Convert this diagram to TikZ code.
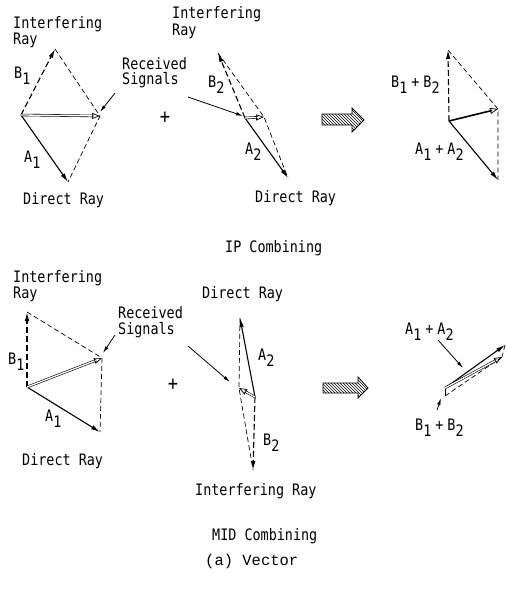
\documentclass[tikz,border=0pt]{standalone}
\usepackage{fontspec}
\newfontfamily\lblfont[FakeStretch=0.85]{DejaVu Sans Mono}
\newfontfamily\courfont{Liberation Mono}
\usetikzlibrary{arrows.meta,patterns,calc}
\newcommand\lsub[1]{\raisebox{-6pt}{#1}}
\newcommand\pl{\hspace{4pt}+\hspace{4pt}}
\begin{document}
\begin{tikzpicture}[x=1pt,y=-1pt,
  lbl/.style={font=\lblfont\fontsize{15.8}{18}\selectfont, inner sep=0pt, anchor=base west},
  plussign/.style={font=\lblfont\fontsize{20}{20}\selectfont, inner sep=0pt, anchor=center},
  captext/.style={font=\courfont\fontsize{15.5}{18}\selectfont, inner sep=0pt, anchor=base west},
  vec/.style={line width=1.1pt, -{Latex[length=9pt,width=4.5pt]}},
  dvec/.style={vec, dash pattern=on 6pt off 3pt},
  dline/.style={line width=0.7pt, dash pattern=on 5pt off 3pt},
  resshaft/.style={double=white, double distance=1.3pt, line width=0.6pt, shorten >=6pt},
  reshead/.style={line width=0.7pt, -{Triangle[open,length=8pt,width=6pt]}},
  pointer/.style={line width=0.8pt, -{Latex[length=7pt,width=3.5pt]}},
  hatch/.style={line width=0.8pt, pattern=north west lines}
]
\useasboundingbox (0,0) rectangle (506,589);

% ---------- IP combining: panel 1 ----------
\coordinate (O1) at (21,115);
\coordinate (B1) at (55,49);
\coordinate (A1) at (68,182);
\coordinate (R1) at (100,116);
\draw[dvec] (O1) -- (B1);
\draw[vec] (O1) -- (A1);
\draw[dline] (B1) -- (R1) -- (A1);
\draw[resshaft] (O1) -- (R1);
\draw[reshead] ($(R1)!8pt!(O1)$) -- (R1);
\node[lbl] (t1a) at (13,28) {Interfering};
\node[lbl] (t1b) at (13,44.5) {Ray};
\node[lbl] (t1c) at (14,78) {B\lsub{1}};
\node[lbl] (t1d) at (24,162) {A\lsub{1}};
\node[lbl] (t1e) at (23,204) {Direct Ray};
\node[lbl] (t1f) at (122,69) {Received};
\node[lbl] (t1g) at (122,84) {Signals};
\coordinate (P1s) at (115,93);
\coordinate (P1e) at (100,112);
\draw[pointer] (P1s) -- (P1e);
\node[plussign] (plus1) at (165,118) {+};

% ---------- IP combining: panel 2 ----------
\coordinate (O2) at (245,118);
\coordinate (B2) at (218,53);
\coordinate (A2) at (288,178);
\coordinate (R2) at (264,117);
\draw[dvec] (O2) -- (B2);
\draw[vec] (O2) -- (A2);
\draw[dline] (B2) -- (R2) -- (A2);
\draw[resshaft] (O2) -- (R2);
\draw[reshead] ($(R2)!8pt!(O2)$) -- (R2);
\coordinate (P2s) at (188,97);
\coordinate (P2e) at (243,116);
\draw[pointer] (P2s) -- (P2e);
\node[lbl] (t2a) at (172,19) {Interfering};
\node[lbl] (t2b) at (172,35.5) {Ray};
\node[lbl] (t2c) at (208,87) {B\lsub{2}};
\node[lbl] (t2d) at (245,154) {A\lsub{2}};
\node[lbl] (t2e) at (255,202) {Direct Ray};

% hatched arrow
\draw[hatch] (322,114) -- (352,114) -- (352,108) -- (364,120) -- (352,132) -- (352,125) -- (322,125) -- cycle;

% ---------- IP combining: panel 3 ----------
\coordinate (O3) at (449,121);
\coordinate (B3) at (448,50);
\coordinate (A3) at (498,180);
\coordinate (R3) at (498,109);
\draw[dvec] (O3) -- (B3);
\draw[vec] (O3) -- (A3);
\draw[dline] (B3) -- (R3) -- (A3);
\draw[line width=1.6pt, shorten >=6pt] (O3) -- (R3);
\draw[reshead] ($(R3)!8pt!(O3)$) -- (R3);
\node[lbl] (t3a) at (391,87) {B\lsub{1}\pl B\lsub{2}};
\node[lbl] (t3b) at (415,154) {A\lsub{1}\pl A\lsub{2}};

\node[lbl] (ip) at (225,252) {IP Combining};

% ---------- MID combining: panel 1 ----------
\coordinate (O4) at (27,387);
\coordinate (B4) at (27,312);
\coordinate (A4) at (100,432);
\coordinate (R4) at (102,358);
\draw[dvec] (O4) -- (B4);
\draw[vec] (O4) -- (A4);
\draw[dline] (B4) -- (R4) -- (A4);
\draw[resshaft] (O4) -- (R4);
\draw[reshead] ($(R4)!8pt!(O4)$) -- (R4);
\node[lbl] (t4a) at (13,282) {Interfering};
\node[lbl] (t4b) at (13,298.5) {Ray};
\node[lbl] (t4c) at (8,364) {B\lsub{1}};
\node[lbl] (t4d) at (45,421) {A\lsub{1}};
\node[lbl] (t4e) at (22,465) {Direct Ray};
\node[lbl] (t4f) at (118,318) {Received};
\node[lbl] (t4g) at (118,334) {Signals};
\coordinate (P4s) at (115,335);
\coordinate (P4e) at (103,353);
\draw[pointer] (P4s) -- (P4e);
\node[plussign] (plus2) at (173,385) {+};

% ---------- MID combining: panel 2 ----------
\coordinate (O5) at (255,397);
\coordinate (A5) at (240,318);
\coordinate (B5) at (253,470);
\coordinate (R5) at (239,388);
\draw[vec] (O5) -- (A5);
\draw[dvec] (O5) -- (B5);
\draw[dline] (A5) -- (R5) -- (B5);
\draw[resshaft] (O5) -- (R5);
\draw[reshead] ($(R5)!8pt!(O5)$) -- (R5);
\coordinate (P5s) at (188,346);
\coordinate (P5e) at (230,382);
\draw[pointer] (P5s) -- (P5e);
\node[lbl] (t5a) at (202,298) {Direct Ray};
\node[lbl] (t5b) at (258,360) {A\lsub{2}};
\node[lbl] (t5c) at (263,445) {B\lsub{2}};
\node[lbl] (t5d) at (195,495) {Interfering Ray};

% hatched arrow
\draw[hatch] (323,383) -- (358,383) -- (358,377) -- (368,388) -- (358,398) -- (358,393) -- (323,393) -- cycle;

% ---------- MID combining: panel 3 ----------
\coordinate (O6) at (445,388);
\coordinate (A6) at (505,345);
\coordinate (B6) at (445,396);
\coordinate (R6) at (502,357);
\draw[vec] (O6) -- (A6);
\draw[line width=1pt] (O6) -- (B6);
\draw[dline] (B6) -- (R6);
\draw[dline] (A6) -- (R6);
\draw[resshaft] (O6) -- (R6);
\draw[reshead] ($(R6)!8pt!(O6)$) -- (R6);
\node[lbl] (t6a) at (405,334) {A\lsub{1}\pl A\lsub{2}};
\node[lbl] (t6b) at (415,430) {B\lsub{1}\pl B\lsub{2}};
\coordinate (P6s) at (438,340);
\coordinate (P6e) at (463,368);
\draw[pointer] (P6s) -- (P6e);
\coordinate (P7s) at (437,410);
\coordinate (P7e) at (441,398);
\draw[pointer] (P7s) -- (P7e);

\node[lbl] (mid) at (212,540) {MID Combining};
\node[captext] (vecl) at (205,565) {(a) Vector};
\end{tikzpicture}
\end{document}
